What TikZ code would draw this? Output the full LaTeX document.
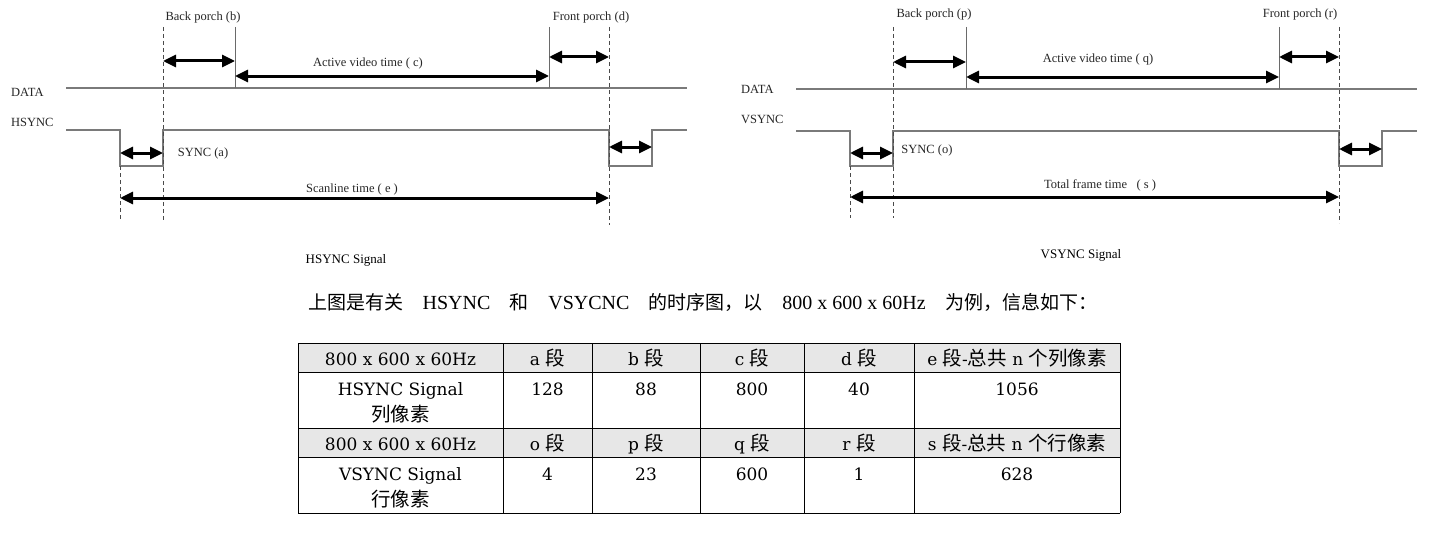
\documentclass[tikz,border=0pt]{standalone}
\usepackage{fontspec}
\setmainfont{Liberation Serif}
\newfontfamily\cjk{Noto Sans CJK SC}
\newfontfamily\tabfont{DejaVu Serif}
\usetikzlibrary{arrows.meta}
\definecolor{sigcol}{HTML}{7A7A7A}
\definecolor{guidecol}{HTML}{4A4A4A}
\definecolor{porchcol}{HTML}{6A6A6A}
\definecolor{labcol}{HTML}{262626}
\definecolor{headfill}{HTML}{E7E7E7}
\newcommand{\zhp}[1]{{\cjk\fontsize{19}{22}\selectfont #1}}
\newcommand{\zht}[1]{{\cjk\fontsize{19.5}{22}\selectfont #1}}
\newcommand{\pgap}{\hspace{0pt plus 1fil}}
\tikzset{
  sig/.style={draw=sigcol, line width=1.1pt},
  guide/.style={draw=guidecol, line width=1pt, dash pattern=on 4pt off 3pt},
  porch/.style={draw=porchcol, line width=1pt},
  dimarrow/.style={draw=black, line width=3pt, {Triangle[length=13pt,width=12pt]}-{Triangle[length=13pt,width=12pt]}},
  lab/.style={font=\fontsize{12.5}{14}\selectfont, text=labcol, inner sep=0pt},
  captext/.style={font=\fontsize{13}{15}\selectfont, text=black, inner sep=0pt},
  para/.style={font=\fontsize{20}{22}\selectfont, text=black, inner sep=0pt, anchor=base west},
  cell/.style={font=\tabfont\fontsize{17}{20}\selectfont, text=black, inner sep=0pt, anchor=base},
  tline/.style={draw=black, line width=1pt},
}
\begin{document}
\begin{tikzpicture}[x=1pt,y=-1pt]
\fill[white] (0,0) rectangle (1439,535);
\useasboundingbox (0,0) rectangle (1439,535);

% ================= HSYNC diagram =================
\coordinate (hDataL) at (66,88);   \coordinate (hDataR) at (687,88);
\draw[sig] (hDataL) -- (hDataR);
\coordinate (hS0) at (66,130);
\draw[sig] (hS0) -| (120,166) -| (163,130) -| (609,166) -| (652,130) -- (687,130);
% guides
\coordinate (hG1t) at (163,27); \coordinate (hG1b) at (163,220);
\coordinate (hG0t) at (120,166); \coordinate (hG0b) at (120,220);
\coordinate (hG2t) at (609,27); \coordinate (hG2b) at (609,225);
\draw[guide] (hG1t) -- (hG1b);
\draw[guide] (hG0t) -- (hG0b);
\draw[guide] (hG2t) -- (hG2b);
\coordinate (hP1t) at (235,27); \coordinate (hP1b) at (235,88);
\coordinate (hP2t) at (549,27); \coordinate (hP2b) at (549,88);
\draw[porch] (hP1t) -- (hP1b);
\draw[porch] (hP2t) -- (hP2b);
% arrows
\coordinate (hA1) at (163,61); \coordinate (hA2) at (235,61);
\draw[dimarrow] (hA1) -- (hA2);
\coordinate (hB1) at (235,76); \coordinate (hB2) at (549,76);
\draw[dimarrow] (hB1) -- (hB2);
\coordinate (hC1) at (549,57); \coordinate (hC2) at (609,57);
\draw[dimarrow] (hC1) -- (hC2);
\coordinate (hD1) at (120,153); \coordinate (hD2) at (163,153);
\draw[dimarrow] (hD1) -- (hD2);
\coordinate (hE1) at (120,198); \coordinate (hE2) at (609,198);
\draw[dimarrow] (hE1) -- (hE2);
\coordinate (hF1) at (609,147); \coordinate (hF2) at (652,147);
\draw[dimarrow] (hF1) -- (hF2);
% labels
\node[lab] (hbp) at (203,17) {Back porch (b)};
\node[lab] (hfp) at (591,17) {Front porch (d)};
\node[lab] (hav) at (368,63) {Active video time ( c)};
\node[lab] (hsy) at (203,153) {SYNC (a)};
\node[lab] (hsl) at (352,189) {Scanline time ( e )};
\node[lab, anchor=west] (hdata) at (11,92) {DATA};
\node[lab, anchor=west] (hhs) at (11,122) {HSYNC};
\node[captext] (hcap) at (346,260) {HSYNC Signal};

% ================= VSYNC diagram =================
\coordinate (vDataL) at (796,89);   \coordinate (vDataR) at (1417,89);
\draw[sig] (vDataL) -- (vDataR);
\coordinate (vS0) at (796,131);
\draw[sig] (vS0) -| (850,166) -| (893,131) -| (1339,166) -| (1382,131) -- (1417,131);
\coordinate (vG1t) at (893,27); \coordinate (vG1b) at (893,218);
\coordinate (vG0t) at (850,166); \coordinate (vG0b) at (850,218);
\coordinate (vG2t) at (1339,27); \coordinate (vG2b) at (1339,223);
\draw[guide] (vG1t) -- (vG1b);
\draw[guide] (vG0t) -- (vG0b);
\draw[guide] (vG2t) -- (vG2b);
\coordinate (vP1t) at (966,27); \coordinate (vP1b) at (966,89);
\coordinate (vP2t) at (1279,27); \coordinate (vP2b) at (1279,89);
\draw[porch] (vP1t) -- (vP1b);
\draw[porch] (vP2t) -- (vP2b);
\coordinate (vA1) at (893,62); \coordinate (vA2) at (966,62);
\draw[dimarrow] (vA1) -- (vA2);
\coordinate (vB1) at (966,77); \coordinate (vB2) at (1279,77);
\draw[dimarrow] (vB1) -- (vB2);
\coordinate (vC1) at (1279,57); \coordinate (vC2) at (1339,57);
\draw[dimarrow] (vC1) -- (vC2);
\coordinate (vD1) at (850,153); \coordinate (vD2) at (893,153);
\draw[dimarrow] (vD1) -- (vD2);
\coordinate (vE1) at (850,197); \coordinate (vE2) at (1339,197);
\draw[dimarrow] (vE1) -- (vE2);
\coordinate (vF1) at (1339,149); \coordinate (vF2) at (1382,149);
\draw[dimarrow] (vF1) -- (vF2);
\node[lab] (vbp) at (934,14) {Back porch (p)};
\node[lab] (vfp) at (1300,14) {Front porch (r)};
\node[lab] (vav) at (1098,59) {Active video time ( q)};
\node[lab] (vsy) at (927,150) {SYNC (o)};
\node[lab] (vtf) at (1100,185) {Total frame time\ \ \ ( s )};
\node[lab, anchor=west] (vdata) at (741,89) {DATA};
\node[lab, anchor=west] (vvs) at (741,119) {VSYNC};
\node[captext] (vcap) at (1081,255) {VSYNC Signal};

% ================= paragraph =================
\node[para] (para) at (308,309) {\makebox[789pt][s]{\zhp{上图是有关}\pgap HSYNC\pgap\zhp{和}\pgap VSYCNC\pgap\zhp{的时序图，以}\pgap 800 x 600 x 60Hz\pgap\zhp{为例，信息如下：}}};

% ================= table =================
\fill[headfill] (298,343) rectangle (1120,372);
\fill[headfill] (298,428) rectangle (1120,457);
\foreach \yy in {343,372,428,457,513} \draw[tline] (298,\yy) -- (1120,\yy);
\foreach \xx in {298,503,592,700,804,914,1120} \draw[tline] (\xx,343) -- (\xx,513);

\node[cell] (h11) at (400.5,365) {800 x 600 x 60Hz};
\node[cell] (h12) at (547.5,365) {a \zht{段}};
\node[cell] (h13) at (646,365) {b \zht{段}};
\node[cell] (h14) at (752,365) {c \zht{段}};
\node[cell] (h15) at (859,365) {d \zht{段}};
\node[cell] (h16) at (1017,365) {e \zht{段}-\zht{总共} n \zht{个列像素}};

\node[cell] (r1a) at (400.5,395) {HSYNC Signal};
\node[cell] (r1b) at (400.5,421) {\zht{列像素}};
\node[cell] (r12) at (547.5,395) {128};
\node[cell] (r13) at (646,395) {88};
\node[cell] (r14) at (752,395) {800};
\node[cell] (r15) at (859,395) {40};
\node[cell] (r16) at (1017,395) {1056};

\node[cell] (h21) at (400.5,450) {800 x 600 x 60Hz};
\node[cell] (h22) at (547.5,450) {o \zht{段}};
\node[cell] (h23) at (646,450) {p \zht{段}};
\node[cell] (h24) at (752,450) {q \zht{段}};
\node[cell] (h25) at (859,450) {r \zht{段}};
\node[cell] (h26) at (1017,450) {s \zht{段}-\zht{总共} n \zht{个行像素}};

\node[cell] (r2a) at (400.5,480) {VSYNC Signal};
\node[cell] (r2b) at (400.5,506) {\zht{行像素}};
\node[cell] (r22) at (547.5,480) {4};
\node[cell] (r23) at (646,480) {23};
\node[cell] (r24) at (752,480) {600};
\node[cell] (r25) at (859,480) {1};
\node[cell] (r26) at (1017,480) {628};
\end{tikzpicture}
\end{document}
